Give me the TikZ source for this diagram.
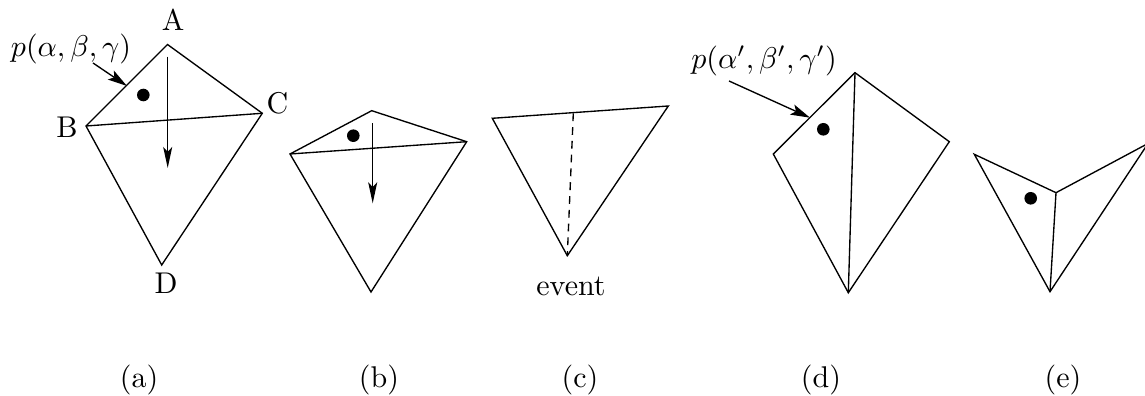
\documentclass[tikz,border=0pt]{standalone}
\usepackage{amsmath, amssymb}
\usetikzlibrary{arrows.meta}
\tikzset{
  edge/.style={line width=0.45pt,line join=miter},
  pdot/.style={circle,fill=black,inner sep=0pt,minimum size=4.2pt},
  flow/.style={-{Stealth[length=7pt,width=3pt,inset=1.6pt]},line width=0.45pt},
  ptr/.style={-{Stealth[length=6.5pt,width=3.6pt,inset=1.4pt]},line width=0.45pt},
  fold/.style={dashed,dash pattern=on 2.6pt off 2pt,line width=0.45pt},
}
\begin{document}
\begin{tikzpicture}[x=0.3333pt,y=-0.3333pt]
  \useasboundingbox (0,0) rectangle (1145,396);
  % (a) kite before the flip
  \coordinate (aA) at (167.5,44.5);
  \coordinate (aB) at (86,126);
  \coordinate (aC) at (262.3,113.3);
  \coordinate (aD) at (161.7,265);
  \draw[edge] (aA) -- (aB) -- (aD) -- (aC) -- cycle;
  \draw[edge] (aB) -- (aC);
  \node (labA) at (173,20) {A};
  \node (labB) at (67,127) {B};
  \node (labC) at (277.5,103) {C};
  \node (labD) at (166,283) {D};
  \node[pdot] (adot) at (143.3,95) {};
  \coordinate (aflow0) at (167.7,56.7);
  \coordinate (aflow1) at (167.7,168);
  \draw[flow] (aflow0) -- (aflow1);
  \node (ap) at (71,49.5) {$p(\alpha,\beta,\gamma)$};
  \coordinate (ap0) at (93,63);
  \coordinate (ap1) at (127,86);
  \draw[ptr] (ap0) -- (ap1);
  % (b) kite flattened
  \coordinate (bT) at (371.7,110.7);
  \coordinate (bL) at (290,154);
  \coordinate (bR) at (466.7,141.7);
  \coordinate (bD) at (371,292);
  \draw[edge] (bT) -- (bL) -- (bD) -- (bR) -- cycle;
  \draw[edge] (bL) -- (bR);
  \node[pdot] (bdot) at (353.3,135.7) {};
  \coordinate (bflow0) at (372.7,123.3);
  \coordinate (bflow1) at (372.7,203.3);
  \draw[flow] (bflow0) -- (bflow1);
  % (c) degenerate step
  \coordinate (cL) at (492.3,118.3);
  \coordinate (cR) at (668.3,106);
  \coordinate (cD) at (567.3,255.7);
  \coordinate (cM) at (573.3,113.3);
  \draw[edge] (cL) -- (cR) -- (cD) -- cycle;
  \draw[fold] (cM) -- (cD);
  \node (event) at (571,286) {event};
  % (d) new diagonal
  \coordinate (dT) at (855,72.7);
  \coordinate (dL) at (773.3,154);
  \coordinate (dR) at (949.3,141.7);
  \coordinate (dD) at (848.3,292.7);
  \draw[edge] (dT) -- (dL) -- (dD) -- (dR) -- cycle;
  \draw[edge] (dT) -- (dD);
  \node[pdot] (ddot) at (823.3,129.3) {};
  \node (dp) at (764,60.5) {$p(\alpha',\beta',\gamma')$};
  \coordinate (dp0) at (729,81);
  \coordinate (dp1) at (810,117.7);
  \draw[ptr] (dp0) -- (dp1);
  % (e) after the flip
  \coordinate (eL) at (974.3,154.3);
  \coordinate (eM) at (1056,192.7);
  \coordinate (eR) at (1148,143.5);
  \coordinate (eD) at (1050,291.7);
  \draw[edge] (eL) -- (eM) -- (eR) -- (eD) -- cycle;
  \draw[edge] (eM) -- (eD);
  \node[pdot] (edot) at (1030.7,198.3) {};
  % captions
  \foreach \nm/\x in {a/139,b/379,c/580,d/821,e/1063}
    \node (sub\nm) at (\x,380) {(\nm)};
\end{tikzpicture}
\end{document}
